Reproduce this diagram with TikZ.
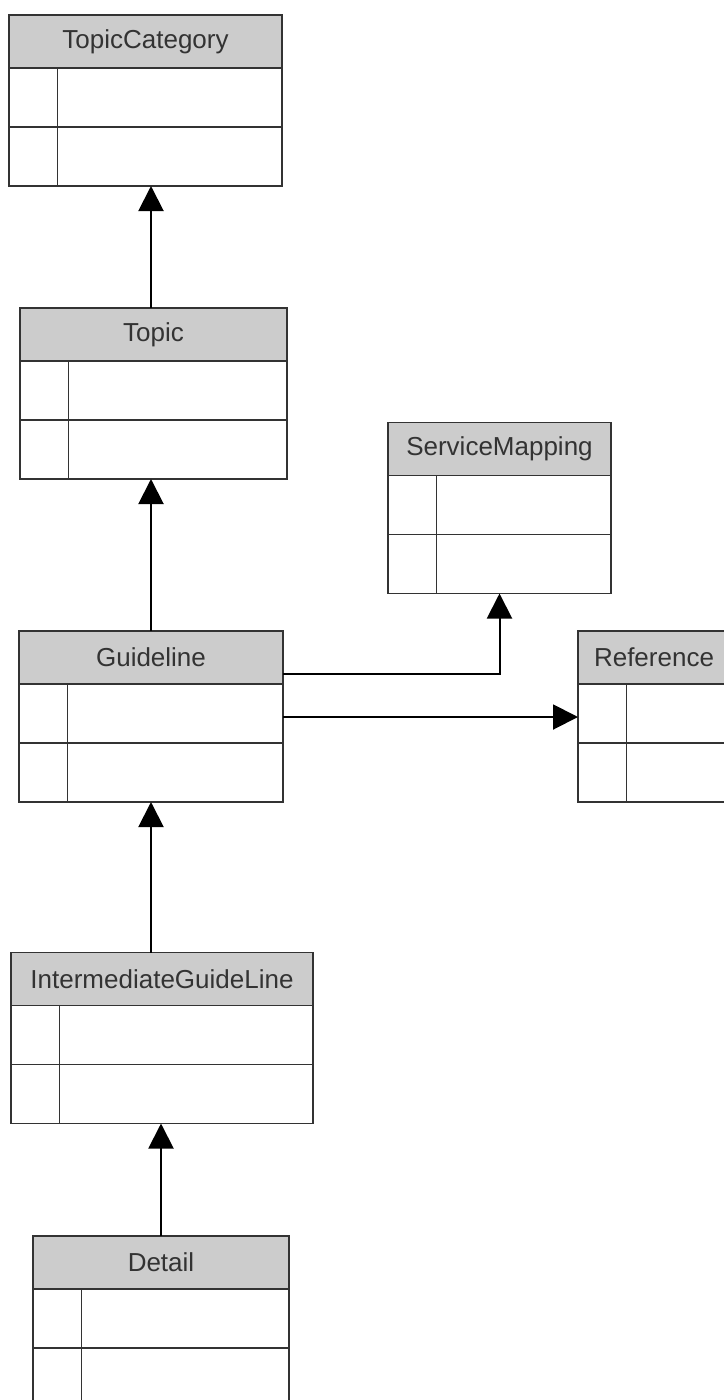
\documentclass[tikz,border=0pt]{standalone}
\usepackage{fontspec}
\setmainfont{Liberation Sans}
\usetikzlibrary{positioning,arrows.meta}
\begin{document}
\begin{tikzpicture}[
      x=1pt, y=-1pt,
      every node/.style={font=\fontsize{26}{30}\selectfont, text=black!80},
      header/.style={rectangle, draw=black!80, fill=black!20, line width=1.4pt, minimum height=53pt, inner sep=0pt, outer sep=0pt},
      fields/.style={rectangle, draw=black!80, fill=white, line width=1.4pt, minimum height=118pt, inner sep=0pt, outer sep=0pt},
      sep/.style={draw=black!80, line width=1.4pt},
      inherit/.style={line width=2pt, -{Triangle[width=25pt, length=25pt]}}
  ]
    \useasboundingbox (0,0) rectangle (723,1400);

    \node[header, minimum width=273pt] (topiccat) at (145.5,41.5) {TopicCategory};
    \node[header, minimum width=267pt] (topic) at (153.5,334.5) {Topic};
    \node[header, minimum width=223pt] (servmap) at (499.5,449) {ServiceMapping};
    \node[header, minimum width=264pt] (guideline) at (151,657.5) {Guideline};
    \node[header, minimum width=152pt] (reference) at (654,657.5) {Reference};
    \node[header, minimum width=302pt] (intermed) at (162,979) {IntermediateGuideLine};
    \node[header, minimum width=256pt] (detail) at (161,1262.5) {Detail};

    \foreach \c/\w in {topiccat/273,topic/267,servmap/223,guideline/264,reference/152,intermed/302,detail/256} {
      \node[fields, minimum width=\w pt, below=0pt of \c] (\c-f) {};
      \draw[sep] (\c-f.west) -- (\c-f.east);
      \draw[sep] ([xshift=48.5pt]\c-f.north west) -- ([xshift=48.5pt]\c-f.south west);
    }

    \draw[inherit] ([xshift=-2.5pt]topic.north) -- ([xshift=-2.5pt]topic.north |- topiccat-f.south);
    \draw[inherit] (guideline.north) -- (guideline.north |- topic-f.south);
    \draw[inherit] (guideline-f.south |- intermed.north) -- (guideline-f.south);
    \draw[inherit] (detail.north) -- (detail.north |- intermed-f.south);
    \draw[inherit] ([yshift=-16pt]guideline.east) -| (servmap-f.south);
    \draw[inherit] ([yshift=-33pt]guideline-f.north east) -- ([yshift=-33pt]reference-f.north west);
  \end{tikzpicture}
\end{document}
